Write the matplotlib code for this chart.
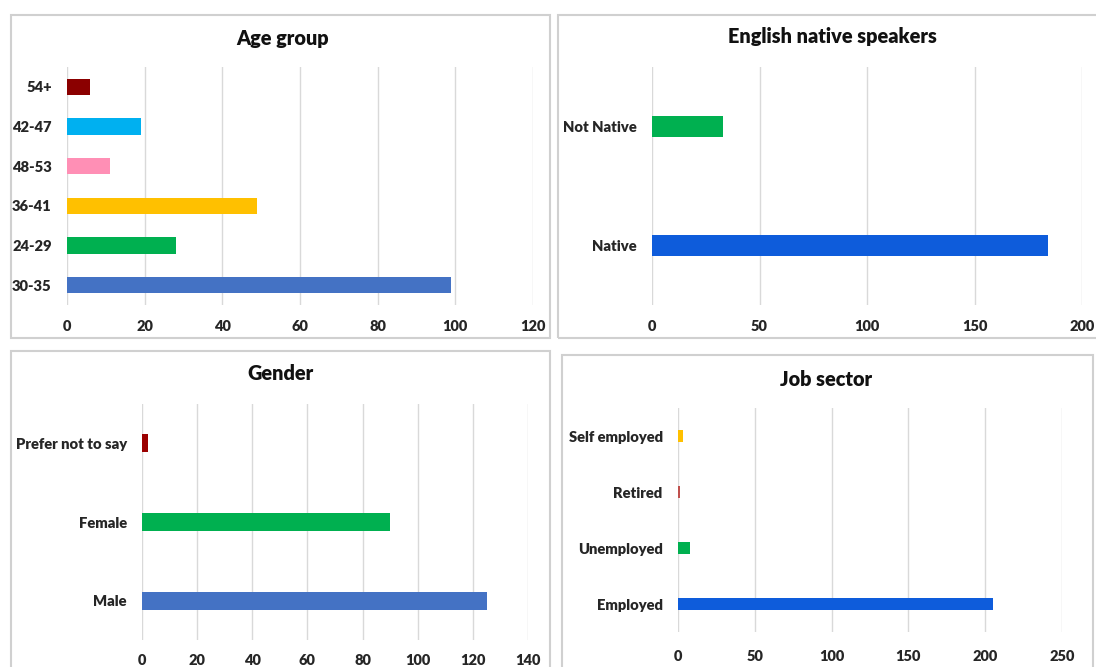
import matplotlib
matplotlib.use("Agg")
import matplotlib.pyplot as plt
from matplotlib.patches import Rectangle

# ---- data ----
age_labels = ["30-35", "24-29", "36-41", "48-53", "42-47", "54+"]
age_values = [99, 28, 49, 11, 19, 6]
age_colors = ["#4472C4", "#00B050", "#FFC000", "#FF8FB5", "#00B0F0", "#8B0000"]
age_ticks = [0, 20, 40, 60, 80, 100, 120]

native_labels = ["Native", "Not Native"]
native_values = [184, 33]
native_colors = ["#0E5CDB", "#00B050"]
native_ticks = [0, 50, 100, 150, 200]

gender_labels = ["Male", "Female", "Prefer not to say"]
gender_values = [125, 90, 2]
gender_colors = ["#4472C4", "#00B050", "#9B0000"]
gender_ticks = [0, 20, 40, 60, 80, 100, 120, 140]

job_labels = ["Employed", "Unemployed", "Retired", "Self employed"]
job_values = [205, 8, 1, 3]
job_colors = ["#0E5CDB", "#00B050", "#C0504D", "#FFC000"]
job_ticks = [0, 50, 100, 150, 200, 250]

W, H = 1096, 667
fig = plt.figure(figsize=(W / 100, H / 100), dpi=100)
fig.patch.set_facecolor("white")
FONT = ["Lato", "DejaVu Sans"]


def px_axes(l, r, t, b):
    return fig.add_axes([l / W, (H - b) / H, (r - l) / W, (b - t) / H])


def panel_border(l, r, t, b):
    fig.add_artist(Rectangle((l / W, (H - b) / H), (r - l) / W, (b - t) / H,
                             transform=fig.transFigure, fill=False,
                             edgecolor="#D0D0D0", linewidth=1.5))


def draw(ax, labels, values, colors, ticks, height, title, title_xy, xpad=11):
    y = list(range(len(labels)))
    ax.barh(y, values, height=height, color=colors, zorder=3)
    ax.set_ylim(-0.5, len(labels) - 0.5)
    ax.set_xlim(ticks[0], ticks[-1])
    ax.set_xticks(ticks)
    ax.set_xticklabels([str(t) for t in ticks], fontsize=10.5, fontweight="heavy",
                       family=FONT, color="#262626")
    ax.set_yticks(y)
    ax.set_yticklabels(labels, fontsize=10.6, fontweight="heavy", family=FONT,
                       color="#262626")
    ax.tick_params(length=0)
    ax.tick_params(axis="x", pad=xpad)
    ax.tick_params(axis="y", pad=11)
    for s in ax.spines.values():
        s.set_visible(False)
    ax.grid(axis="x", color="#D9D9D9", linewidth=1, zorder=0)
    ax.set_axisbelow(True)
    fig.text(title_xy[0] / W, 1 - title_xy[1] / H, title, ha="center", va="center",
             fontsize=14.3, fontweight="heavy", family=FONT, color="#111111")


# panel borders
panel_border(11, 550, 15, 338)
panel_border(558, 1098, 15, 338)
panel_border(11, 550, 351, 700)
panel_border(562, 1093, 355, 700)

ax1 = px_axes(67, 533, 67, 305)
draw(ax1, age_labels, age_values, age_colors, age_ticks, 0.42, "Age group", (283, 38))

ax2 = px_axes(652, 1082, 67, 305)
draw(ax2, native_labels, native_values, native_colors, native_ticks, 0.17,
     "English native speakers", (832, 36))

ax3 = px_axes(142, 528, 404, 640)
draw(ax3, gender_labels, gender_values, gender_colors, gender_ticks, 0.23,
     "Gender", (281, 373), xpad=10)

ax4 = px_axes(678, 1062, 408, 632)
draw(ax4, job_labels, job_values, job_colors, job_ticks, 0.23,
     "Job sector", (826, 379), xpad=13)

fig.savefig("out.png", dpi=100, facecolor="white")
